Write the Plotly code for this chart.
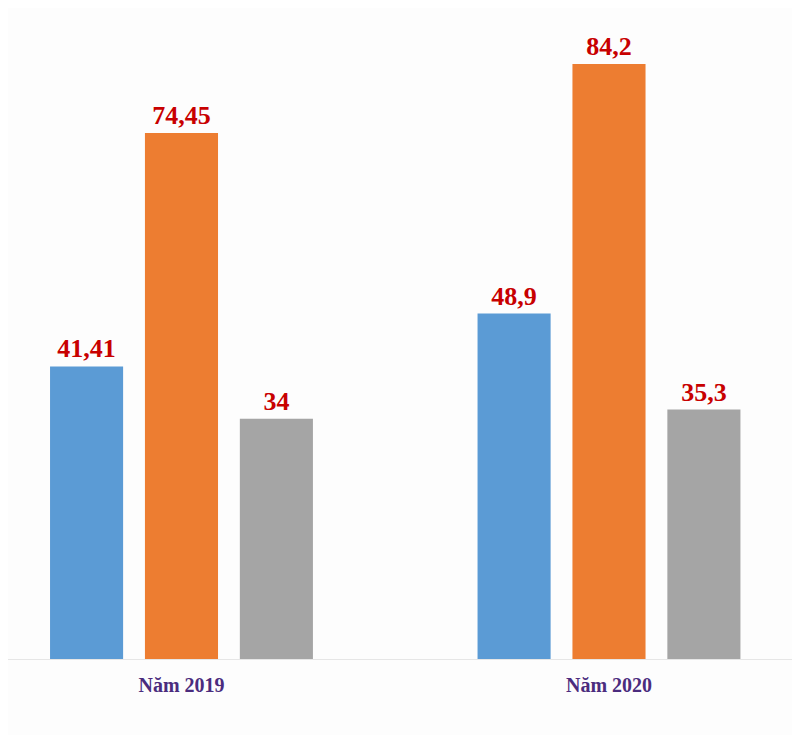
import plotly.graph_objects as go

categories = ["Năm 2019", "Năm 2020"]
series_blue = [41.41, 48.9]
series_orange = [74.45, 84.2]
series_gray = [34, 35.3]

colors = ["#5B9BD5", "#ED7D31", "#A5A5A5"]

def fmt(v):
    return f"{v:g}".replace(".", ",")

fig = go.Figure()
for vals, col in zip([series_blue, series_orange, series_gray], colors):
    fig.add_trace(go.Bar(
        x=categories, y=vals, marker=dict(color=col, line=dict(width=0)),
        text=[fmt(v) for v in vals], textposition="outside",
        textfont=dict(family="Liberation Serif", size=26, color="#C80000", weight="bold"),
        cliponaxis=False, showlegend=False, hoverinfo="skip",
    ))

fig.update_layout(
    width=792, height=727,
    margin=dict(l=0, r=0, t=0, b=76),
    paper_bgcolor="#FDFDFD", plot_bgcolor="#FDFDFD",
    barmode="group", bargap=0.334, bargroupgap=0.23,
)
fig.update_xaxes(
    type="category", range=[-0.4058, 1.4468],
    showline=True, linecolor="#E6E6E6", linewidth=1,
    ticks="outside", ticklen=8, tickcolor="rgba(0,0,0,0)",
    tickfont=dict(family="Liberation Serif", size=20, color="#4B2C7E", weight="bold"),
    showgrid=False, zeroline=False,
)
fig.update_yaxes(range=[0, 92.14], visible=False, showgrid=False, zeroline=False)

fig.write_html("out.html")
